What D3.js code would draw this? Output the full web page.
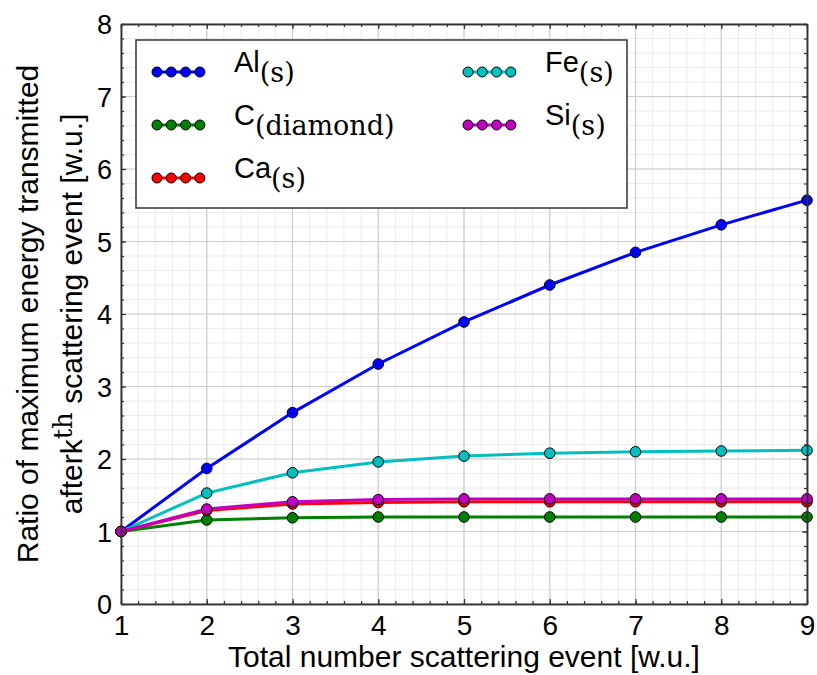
<!DOCTYPE html>
<html><head><meta charset="utf-8">
<script src="https://cdn.jsdelivr.net/npm/d3@7"></script>
<style>html,body{margin:0;padding:0;background:#fff;}svg{display:block;}</style>
</head><body>
<svg id="chart" width="817" height="675"></svg>
<script>
const xValues = [1, 2, 3, 4, 5, 6, 7, 8, 9];
const alValues = [1, 1.87, 2.64, 3.31, 3.89, 4.40, 4.85, 5.23, 5.57];
const cValues  = [1, 1.16, 1.19, 1.20, 1.20, 1.20, 1.20, 1.20, 1.20];
const caValues = [1, 1.29, 1.38, 1.40, 1.41, 1.41, 1.41, 1.41, 1.41];
const feValues = [1, 1.53, 1.81, 1.96, 2.04, 2.08, 2.10, 2.11, 2.12];
const siValues = [1, 1.31, 1.41, 1.44, 1.45, 1.45, 1.45, 1.45, 1.45];
const seriesNames = ["Al", "C", "Ca", "Fe", "Si"];
const seriesSubs = ["(s)", "(diamond)", "(s)", "(s)", "(s)"];
const seriesColors = ["#0000ff", "#008000", "#ff0000", "#00bfbf", "#bf00bf"];
const xTicks = [1, 2, 3, 4, 5, 6, 7, 8, 9];
const yTicks = [0, 1, 2, 3, 4, 5, 6, 7, 8];
const xLabel = "Total number scattering event [w.u.]";
const yLabel1 = "Ratio of maximum energy transmitted";

const series = [alValues, cValues, caValues, feValues, siValues].map((v, i) => ({
  name: seriesNames[i], sub: seriesSubs[i], color: seriesColors[i],
  points: xValues.map((x, j) => ({x, y: v[j]}))
}));

const svg = d3.select("#chart");
const L = 121, R = 807, T = 24, B = 604;
const x = d3.scaleLinear().domain([1, 9]).range([L, R]);
const y = d3.scaleLinear().domain([0, 8]).range([B, T]);

// minor grid
const xMinor = d3.range(1, 9.001, 0.2);
const yMinor = d3.range(0, 8.001, 0.2);
const g = svg.append("g");
g.selectAll(".xm").data(xMinor).enter().append("line")
  .attr("x1", d => x(d)).attr("x2", d => x(d)).attr("y1", T).attr("y2", B)
  .attr("stroke", "#ececec").attr("stroke-width", 1);
g.selectAll(".ym").data(yMinor).enter().append("line")
  .attr("y1", d => y(d)).attr("y2", d => y(d)).attr("x1", L).attr("x2", R)
  .attr("stroke", "#ececec").attr("stroke-width", 1);
g.selectAll(".xM").data(xTicks).enter().append("line")
  .attr("x1", d => x(d)).attr("x2", d => x(d)).attr("y1", T).attr("y2", B)
  .attr("stroke", "#cccccc").attr("stroke-width", 1.2);
g.selectAll(".yM").data(yTicks).enter().append("line")
  .attr("y1", d => y(d)).attr("y2", d => y(d)).attr("x1", L).attr("x2", R)
  .attr("stroke", "#cccccc").attr("stroke-width", 1.2);

// lines and markers
const line = d3.line().x(d => x(d.x)).y(d => y(d.y));
series.forEach(s => {
  svg.append("path").datum(s.points).attr("d", line)
    .attr("fill", "none").attr("stroke", s.color).attr("stroke-width", 3);
  svg.selectAll(null).data(s.points).enter().append("circle")
    .attr("cx", d => x(d.x)).attr("cy", d => y(d.y)).attr("r", 5.3)
    .attr("fill", s.color).attr("stroke", "#000").attr("stroke-width", 1);
});

// axes
function axisStyle(sel) {
  sel.select(".domain").attr("stroke", "#333").attr("stroke-width", 1.5);
  sel.selectAll(".tick line").attr("stroke", "#333").attr("stroke-width", 1.2);
}
const fontSans = "'Liberation Sans', Arial, Helvetica, sans-serif";
const xb = svg.append("g").attr("transform", `translate(0,${B})`)
  .call(d3.axisBottom(x).tickValues(xTicks).tickSizeInner(-5).tickSizeOuter(0).tickPadding(11).tickFormat(d3.format("d")));
xb.selectAll("text").attr("font-family", fontSans).attr("font-size", 28).attr("fill", "#000");
axisStyle(xb);
const xbm = svg.append("g").attr("transform", `translate(0,${B})`)
  .call(d3.axisBottom(x).tickValues(xMinor).tickSizeInner(-3).tickSizeOuter(0).tickFormat(""));
axisStyle(xbm);
const xt = svg.append("g").attr("transform", `translate(0,${T})`)
  .call(d3.axisTop(x).tickValues(xTicks).tickSizeInner(-5).tickSizeOuter(0).tickFormat(""));
axisStyle(xt);
const xtm = svg.append("g").attr("transform", `translate(0,${T})`)
  .call(d3.axisTop(x).tickValues(xMinor).tickSizeInner(-3).tickSizeOuter(0).tickFormat(""));
axisStyle(xtm);
const yl = svg.append("g").attr("transform", `translate(${L},0)`)
  .call(d3.axisLeft(y).tickValues(yTicks).tickSizeInner(-5).tickSizeOuter(0).tickPadding(9).tickFormat(d3.format("d")));
yl.selectAll("text").attr("font-family", fontSans).attr("font-size", 27).attr("fill", "#000").attr("dy", "0.36em");
axisStyle(yl);
const ylm = svg.append("g").attr("transform", `translate(${L},0)`)
  .call(d3.axisLeft(y).tickValues(yMinor).tickSizeInner(-3).tickSizeOuter(0).tickFormat(""));
axisStyle(ylm);
const yr = svg.append("g").attr("transform", `translate(${R},0)`)
  .call(d3.axisRight(y).tickValues(yTicks).tickSizeInner(-5).tickSizeOuter(0).tickFormat(""));
axisStyle(yr);
const yrm = svg.append("g").attr("transform", `translate(${R},0)`)
  .call(d3.axisRight(y).tickValues(yMinor).tickSizeInner(-3).tickSizeOuter(0).tickFormat(""));
axisStyle(yrm);

// axis labels
svg.append("text").attr("x", (L + R) / 2).attr("y", 667).attr("text-anchor", "middle")
  .attr("font-family", fontSans).attr("font-size", 30).attr("fill", "#000").text(xLabel);
const cy = (T + B) / 2;
svg.append("text").attr("transform", `translate(38,${cy}) rotate(-90)`).attr("text-anchor", "middle")
  .attr("font-family", fontSans).attr("font-size", 30).attr("fill", "#000").text(yLabel1);
const y2 = svg.append("text").attr("transform", `translate(82,${cy}) rotate(-90)`).attr("text-anchor", "middle")
  .attr("font-family", fontSans).attr("font-size", 30).attr("fill", "#000");
y2.append("tspan").text("afterk");
y2.append("tspan").attr("dy", -10).attr("font-family", "'DejaVu Serif', serif").attr("font-size", 26).text("th");
y2.append("tspan").attr("dy", 10).text("\u00a0scattering event [w.u.]");

// legend
svg.append("rect").attr("x", 136).attr("y", 40).attr("width", 491).attr("height", 168)
  .attr("fill", "#fff").attr("stroke", "#333").attr("stroke-width", 1.5);
const legPos = [
  {mx: 157, lx: 234, ly: 72}, {mx: 157, lx: 234, ly: 125}, {mx: 157, lx: 234, ly: 178},
  {mx: 468, lx: 545, ly: 72}, {mx: 468, lx: 545, ly: 125}
];
series.forEach((s, i) => {
  const p = legPos[i];
  const lg = svg.append("g");
  const mxs = d3.range(4).map(k => p.mx + k * 14.3);
  lg.append("line").attr("x1", mxs[0]).attr("x2", mxs[3]).attr("y1", p.ly).attr("y2", p.ly)
    .attr("stroke", s.color).attr("stroke-width", 3);
  lg.selectAll("circle").data(mxs).enter().append("circle")
    .attr("cx", d => d).attr("cy", p.ly).attr("r", 5)
    .attr("fill", s.color).attr("stroke", "#000").attr("stroke-width", 1);
  const t = lg.append("text").attr("x", p.lx).attr("y", p.ly).attr("font-family", fontSans)
    .attr("font-size", 29).attr("fill", "#000");
  t.append("tspan").text(s.name);
  t.append("tspan").attr("dy", 10).attr("font-family", "'DejaVu Serif', serif").attr("font-size", 27).text(s.sub);
});
</script>
</body></html>
